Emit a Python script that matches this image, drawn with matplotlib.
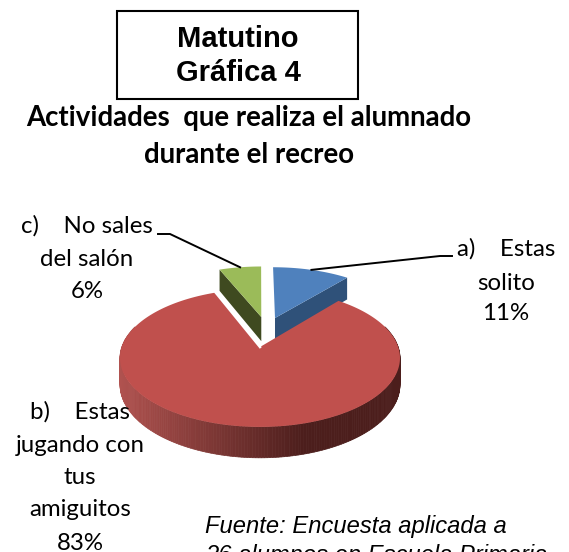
import numpy as np
import matplotlib
matplotlib.use('Agg')
import matplotlib.pyplot as plt
from matplotlib.patches import Polygon, Rectangle

# Datos de la grafica
categories = ['a)    Estas\nsolito', 'b)    Estas\njugando con\ntus\namiguitos', 'c)    No sales\ndel salón']
values = [11, 83, 6]
box_lines = ['Matutino', 'Gráfica 4']
title_lines = ['Actividades  que realiza el alumnado', 'durante el recreo']
source_lines = ['Fuente: Encuesta aplicada a', '26 alumnos en Escuela Primaria']

top_colors = ['#4F81BD', '#C0504D', '#9BBB59']
side_colors = ['#2F5179', '#C0504D', '#3F4A20']

# Geometria de la tarta (pixeles de la figura)
cx, cy = 260, 347
a, b, k = 67.2, 138.2, 0.159
depth = 26
explode = [(0.1165, 0.463), (0, 0), (0.01, 0.48)]


def project(x, y, drop=0):
    den = 1 + k * y
    return cx + b * x / den, cy - a * y / den + drop / den


def rim(t0, t1, off, drop=0, n=80):
    t = np.radians(np.linspace(t0, t1, n))
    return project(np.sin(t) + off[0], np.cos(t) + off[1], drop)


fig = plt.figure(figsize=(5.69, 5.52), dpi=100)
ax = fig.add_axes([0, 0, 1, 1])
ax.set_xlim(0, 569)
ax.set_ylim(552, 0)
ax.axis('off')

# Angulos acumulados desde las 12 en sentido horario
cum = np.cumsum([0] + values) * 360 / sum(values)
blue = (cum[0], cum[1], explode[0])
red = (cum[1], cum[2], explode[1])
green = (cum[2], cum[3], explode[2])

# Rebanada azul: cara cortada, borde y tapa
off = explode[0]
x1, y1 = rim(blue[0], blue[1], off)
x2, y2 = rim(blue[0], blue[1], off, depth)
ax0, ay0 = project(off[0], off[1])
ax1, ay1 = project(off[0], off[1], depth)
ax.add_patch(Polygon([(ax0, ay0), (x1[-1], y1[-1]), (x2[-1], y2[-1]), (ax1, ay1)], fc=side_colors[0], ec='none', zorder=2))
ax.add_patch(Polygon(np.c_[np.r_[ax0, x1], np.r_[ay0, y1]], fc=top_colors[0], ec='none', zorder=3))

# Rebanada verde
off = explode[2]
x1, y1 = rim(green[0], green[1], off)
ax0, ay0 = project(off[0], off[1])
ax1, ay1 = project(off[0], off[1], depth)
x2, y2 = rim(green[0], green[1], off, depth)
ax.add_patch(Polygon([(ax0, ay0), (x1[0], y1[0]), (x2[0], y2[0]), (ax1, ay1)], fc=side_colors[2], ec='none', zorder=2))
ax.add_patch(Polygon(np.c_[np.r_[ax0, x1], np.r_[ay0, y1]], fc=top_colors[2], ec='none', zorder=3))

# Rebanada roja: borde con degradado y tapa
off = explode[1]
x1, y1 = rim(red[0], red[1], off, 0, 300)
x2, y2 = rim(red[0], red[1], off, depth, 300)
light = np.array(matplotlib.colors.to_rgb('#B0524F'))
dark = np.array(matplotlib.colors.to_rgb('#4C1E1C'))
for i in range(len(x1) - 1):
    if y2[i] < cy + 5 and y2[i + 1] < cy + 5:
        continue
    f = np.clip((x1[i] - 120) / 185, 0, 1)
    ax.add_patch(Polygon([(x1[i], y1[i]), (x1[i + 1], y1[i + 1]), (x2[i + 1], y2[i + 1]), (x2[i], y2[i])],
                         fc=light + (dark - light) * f, ec=light + (dark - light) * f, lw=0.5, zorder=4))
ax0, ay0 = project(off[0], off[1])
ax.add_patch(Polygon(np.c_[np.r_[ax0, x1], np.r_[ay0, y1]], fc=top_colors[1], ec='none', zorder=5))
ax.plot([ax0, x1[-1]], [ay0, y1[-1]], color='white', lw=1.8, zorder=6)

# Lineas guia hacia el centro del borde de cada rebanada
t = np.radians((blue[0] + blue[1]) / 2)
bx, by = project(np.sin(t) + explode[0][0], np.cos(t) + explode[0][1])
ax.plot([bx, 440, 452], [by, 256, 256], color='black', lw=1.4, zorder=7)
t = np.radians((green[0] + green[1]) / 2)
gx, gy = project(np.sin(t) + explode[2][0], np.cos(t) + explode[2][1])
ax.plot([gx, 170, 158], [gy, 234, 234], color='black', lw=1.4, zorder=7)

# Etiquetas
label_font = dict(family='Lato', fontsize=17.3, ha='center', va='center', color='black', zorder=8)
label_pos = [(506, [249, 283, 313]), (80, [412, 445, 478, 510, 543]), (87, [226, 259, 292])]
for cat, val, (lx, ys) in zip(categories, values, label_pos):
    lines = cat.split('\n') + [f'{val}%']
    for line, ly in zip(lines, ys):
        ax.text(lx, ly, line, **label_font)

# Recuadro y titulos
ax.add_patch(Rectangle((117, 11), 241, 88, fc='white', ec='black', lw=1.5, zorder=1))
for line, ly in zip(box_lines, [39, 73]):
    ax.text(238, ly, line, family='Liberation Sans', fontweight='bold', fontsize=21, ha='center', va='center')
for line, ly in zip(title_lines, [118, 155]):
    ax.text(249, ly, line, family='Lato', fontweight='bold', fontsize=19.9, ha='center', va='center')

# Fuente (cortada por el borde inferior, igual que en el original)
for line, ly in zip(source_lines, [527, 555]):
    ax.text(205, ly, line, family='Liberation Sans', style='italic', fontsize=17.1, ha='left', va='center')

fig.savefig('out.png', dpi=100)
plt.close(fig)
